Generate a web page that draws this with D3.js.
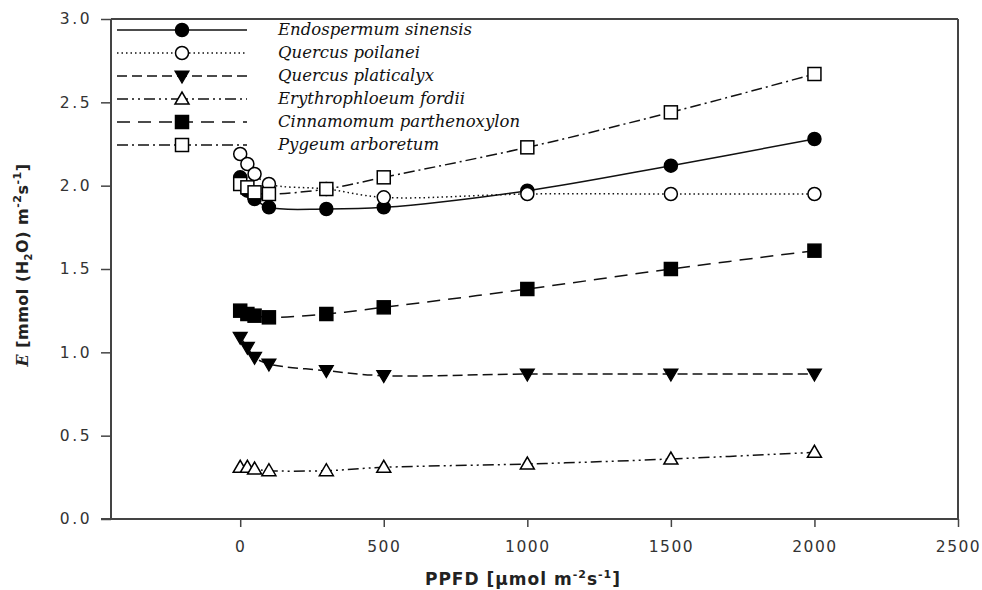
<!DOCTYPE html>
<html>
<head>
<meta charset="utf-8">
<script src="https://cdn.jsdelivr.net/npm/d3@7"></script>
<style>
  html, body { margin: 0; padding: 0; background: #fff; }
  svg { display: block; }
  .tick text { font-family: "DejaVu Sans", sans-serif; font-size: 15.5px; letter-spacing: 2.5px; fill: #333; }
  .x-axis .tick text { letter-spacing: 1.5px; }
</style>
</head>
<body>
<svg id="chart" width="982" height="590"></svg>
<script>
// Light levels (PPFD, µmol m-2 s-1)
const ppfd = [0, 25, 50, 100, 300, 500, 1000, 1500, 2000];

// Transpiration rate E for each species
const endospermum   = [2.05, 1.97, 1.92, 1.87, 1.86, 1.87, 1.97, 2.12, 2.28];
const qPoilanei     = [2.19, 2.13, 2.07, 2.01, 1.98, 1.93, 1.95, 1.95, 1.95];
const qPlaticalyx   = [1.09, 1.03, 0.97, 0.93, 0.89, 0.86, 0.87, 0.87, 0.87];
const erythrophloeum= [0.31, 0.31, 0.30, 0.29, 0.29, 0.31, 0.33, 0.36, 0.40];
const cinnamomum    = [1.25, 1.23, 1.22, 1.21, 1.23, 1.27, 1.38, 1.50, 1.61];
const pygeum        = [2.01, 1.99, 1.96, 1.95, 1.98, 2.05, 2.23, 2.44, 2.67];

const speciesNames = [
  "Endospermum sinensis",
  "Quercus poilanei",
  "Quercus platicalyx",
  "Erythrophloeum fordii",
  "Cinnamomum parthenoxylon",
  "Pygeum arboretum"
];

const xTicks = [0, 500, 1000, 1500, 2000, 2500];
const yTicks = [0, 0.5, 1.0, 1.5, 2.0, 2.5, 3.0];

const series = [
  { name: speciesNames[0], values: endospermum,    marker: "circle",   fill: "#000", dash: null },
  { name: speciesNames[1], values: qPoilanei,      marker: "circle",   fill: "#fff", dash: "1.5,3" },
  { name: speciesNames[2], values: qPlaticalyx,    marker: "triDown",  fill: "#000", dash: "10,5" },
  { name: speciesNames[3], values: erythrophloeum, marker: "triUp",    fill: "#fff", dash: "11,4,2,4,2,4" },
  { name: speciesNames[4], values: cinnamomum,     marker: "square",   fill: "#000", dash: "13,8" },
  { name: speciesNames[5], values: pygeum,         marker: "square",   fill: "#fff", dash: "11,4,2,4" }
];

const svg = d3.select("#chart");
const plotLeft = 111, plotRight = 958, plotTop = 19, plotBottom = 519;

const x = d3.scaleLinear().domain([-450, 2500]).range([plotLeft, plotRight]);
const y = d3.scaleLinear().domain([0, 3]).range([plotBottom, plotTop]);

const axisColor = "#444";

// Frame: top and right edges
svg.append("line").attr("x1", plotLeft).attr("x2", plotRight).attr("y1", plotTop).attr("y2", plotTop)
  .attr("stroke", axisColor).attr("stroke-width", 2);
svg.append("line").attr("x1", plotRight).attr("x2", plotRight).attr("y1", plotTop).attr("y2", plotBottom)
  .attr("stroke", axisColor).attr("stroke-width", 2);

// Axes
const xAxis = svg.append("g").attr("class", "x-axis").attr("transform", `translate(0,${plotBottom})`)
  .call(d3.axisBottom(x).tickValues(xTicks).tickFormat(d3.format("d")).tickSizeInner(8).tickSizeOuter(0).tickPadding(14));
const yAxis = svg.append("g").attr("class", "y-axis").attr("transform", `translate(${plotLeft},0)`)
  .call(d3.axisLeft(y).tickValues(yTicks).tickFormat(d3.format(".1f")).tickSizeInner(10).tickSizeOuter(0).tickPadding(9));
[xAxis, yAxis].forEach(g => {
  g.select(".domain").attr("stroke", axisColor).attr("stroke-width", 2);
  g.selectAll(".tick line").attr("stroke", axisColor).attr("stroke-width", 1.5);
});
xAxis.select(".domain").attr("d", `M${plotLeft - 10},0H${plotRight}`);
yAxis.select(".domain").attr("d", `M0,${plotTop}V${plotBottom}`);

// Axis titles
const xTitle = svg.append("text")
  .attr("x", 523).attr("y", 585)
  .attr("text-anchor", "middle")
  .attr("font-family", "DejaVu Sans, sans-serif").attr("font-weight", "bold")
  .attr("font-size", 17).attr("letter-spacing", 1).attr("fill", "#222");
xTitle.append("tspan").text("PPFD [µmol m");
xTitle.append("tspan").attr("font-size", 11).attr("dy", -7).text("-2");
xTitle.append("tspan").attr("dy", 7).text("s");
xTitle.append("tspan").attr("font-size", 11).attr("dy", -7).text("-1");
xTitle.append("tspan").attr("dy", 7).text("]");

const yTitle = svg.append("text")
  .attr("transform", "translate(28,265) rotate(-90)")
  .attr("text-anchor", "middle")
  .attr("font-family", "DejaVu Sans, sans-serif").attr("font-weight", "bold")
  .attr("font-size", 16).attr("letter-spacing", 0.5).attr("fill", "#222");
yTitle.append("tspan").attr("font-style", "italic").attr("font-family", "DejaVu Serif, serif").text("E");
yTitle.append("tspan").text(" [mmol (H");
yTitle.append("tspan").attr("font-size", 10).attr("dy", 4).text("2");
yTitle.append("tspan").attr("dy", -4).text("O) m");
yTitle.append("tspan").attr("font-size", 11).attr("dy", -7).text("-2");
yTitle.append("tspan").attr("dy", 7).text("s");
yTitle.append("tspan").attr("font-size", 11).attr("dy", -7).text("-1");
yTitle.append("tspan").attr("dy", 7).text("]");

// Marker drawing
function drawMarker(g, type, fill, cx, cy) {
  const stroke = "#000";
  if (type === "circle") {
    g.append("circle").attr("cx", cx).attr("cy", cy).attr("r", 6.5)
      .attr("fill", fill).attr("stroke", stroke).attr("stroke-width", 1.5);
  } else if (type === "square") {
    g.append("rect").attr("x", cx - 6.5).attr("y", cy - 6.5).attr("width", 13).attr("height", 13)
      .attr("fill", fill).attr("stroke", stroke).attr("stroke-width", 1.5);
  } else if (type === "triDown") {
    g.append("path").attr("d", `M${cx - 7},${cy - 5}L${cx + 7},${cy - 5}L${cx},${cy + 7}Z`)
      .attr("fill", fill).attr("stroke", stroke).attr("stroke-width", 1.2);
  } else if (type === "triUp") {
    g.append("path").attr("d", `M${cx - 7},${cy + 5}L${cx + 7},${cy + 5}L${cx},${cy - 7}Z`)
      .attr("fill", fill).attr("stroke", stroke).attr("stroke-width", 1.5);
  }
}

const line = d3.line()
  .x((d, i) => x(ppfd[i]))
  .y(d => y(d))
  .curve(d3.curveCatmullRom.alpha(0.5));

// Curves
series.forEach(s => {
  svg.append("path")
    .datum(s.values)
    .attr("d", line)
    .attr("fill", "none")
    .attr("stroke", "#111")
    .attr("stroke-width", 1.5)
    .attr("stroke-dasharray", s.dash);
});

// Markers, drawn after all curves
series.forEach(s => {
  const g = svg.append("g");
  s.values.forEach((v, i) => drawMarker(g, s.marker, s.fill, x(ppfd[i]), y(v)));
});

// Legend
const legend = svg.append("g");
series.forEach((s, i) => {
  const ly = 30 + i * 23;
  legend.append("line").attr("x1", 117).attr("x2", 247).attr("y1", ly).attr("y2", ly)
    .attr("stroke", "#111").attr("stroke-width", 1.5).attr("stroke-dasharray", s.dash);
  drawMarker(legend, s.marker, s.fill, 182, ly);
  legend.append("text")
    .attr("x", 278).attr("y", ly + 5)
    .attr("font-family", "DejaVu Serif, serif")
    .attr("font-style", "italic")
    .attr("font-size", 16.5)
    .attr("fill", "#111")
    .text(s.name);
});
</script>
</body>
</html>
